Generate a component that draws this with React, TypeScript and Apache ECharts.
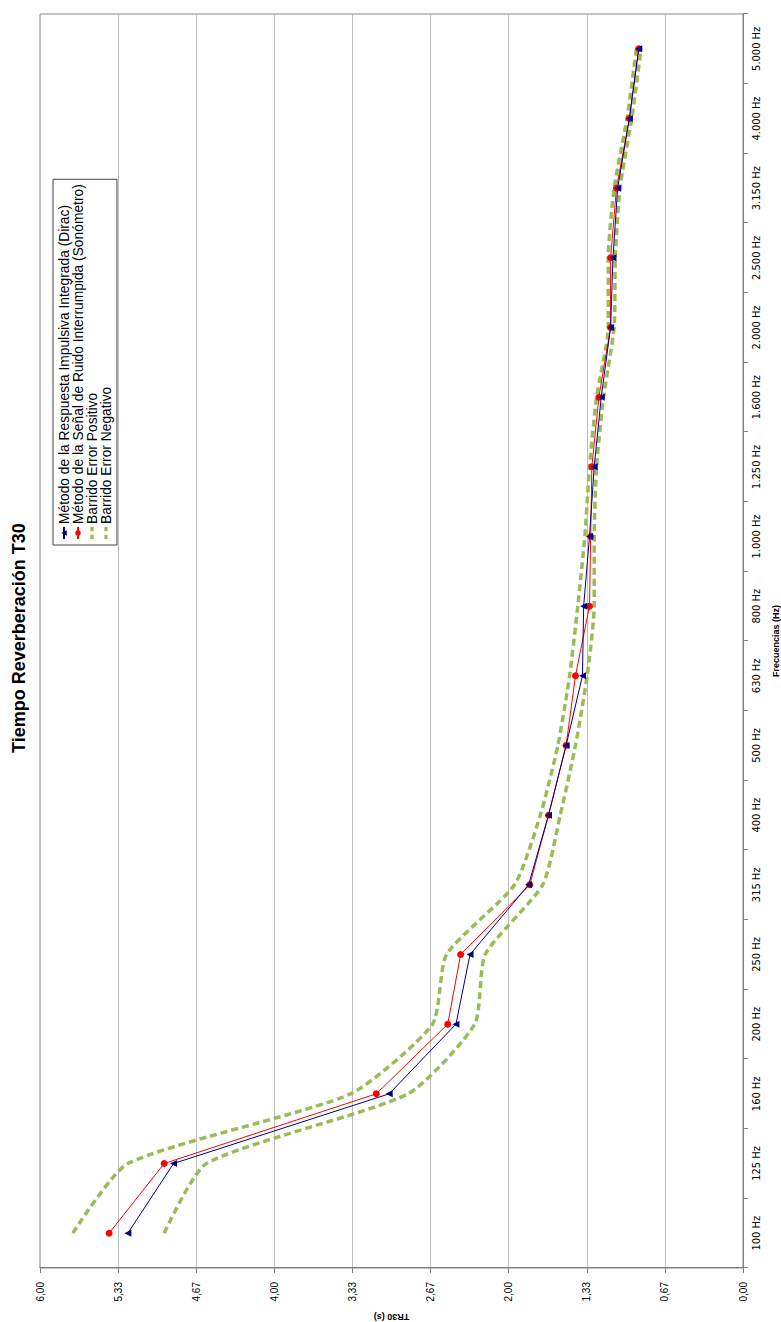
import React, { useEffect, useRef } from "react";
import * as echarts from "echarts";

const categories = ["100 Hz", "125 Hz", "160 Hz", "200 Hz", "250 Hz", "315 Hz", "400 Hz", "500 Hz", "630 Hz", "800 Hz", "1.000 Hz", "1.250 Hz", "1.600 Hz", "2.000 Hz", "2.500 Hz", "3.150 Hz", "4.000 Hz", "5.000 Hz"];
const dirac = [5.25, 4.86, 3.02, 2.45, 2.33, 1.83, 1.66, 1.51, 1.37, 1.36, 1.31, 1.27, 1.21, 1.13, 1.11, 1.07, 0.97, 0.89];
const sonometro = [5.41, 4.94, 3.13, 2.52, 2.41, 1.82, 1.66, 1.51, 1.43, 1.31, 1.30, 1.29, 1.23, 1.13, 1.13, 1.08, 0.97, 0.89];
const errorPositivo = [5.72, 5.25, 3.35, 2.65, 2.53, 1.95, 1.73, 1.58, 1.48, 1.41, 1.35, 1.31, 1.25, 1.15, 1.15, 1.10, 0.99, 0.91];
const errorNegativo = [4.94, 4.58, 2.86, 2.29, 2.20, 1.71, 1.56, 1.43, 1.33, 1.27, 1.27, 1.25, 1.19, 1.10, 1.09, 1.05, 0.95, 0.87];
const seriesNames = [
  "Método de la Respuesta Impulsiva Integrada (Dirac)",
  "Método de la Señal de Ruido Interrumpida (Sonómetro)",
  "Barrido Error Positivo",
  "Barrido Error Negativo",
];
const titleText = "Tiempo Reverberación T30";
const xName = "Frecuencias (Hz)";
const yName = "TR30 (s)";

const FONT = "'Liberation Sans', Arial, sans-serif";
const NARROW = "'Liberation Sans Narrow', 'DejaVu Sans Condensed', 'Liberation Sans', sans-serif";
const DASH_ICON = "path://M0,0h4v3h-4z M7,0h4v3h-4z";

export default function App() {
  const ref = useRef<HTMLDivElement>(null);
  useEffect(() => {
    if (!ref.current) return;
    const chart = echarts.init(ref.current, null, { renderer: "svg" });
    const green = "#9BBB59";
    chart.setOption({
      animation: false,
      backgroundColor: "#fff",
      textStyle: { fontFamily: FONT },
      title: {
        text: titleText,
        left: 684,
        top: 10,
        textAlign: "center",
        padding: 0,
        textStyle: { fontSize: 18, fontWeight: "bold", color: "#000", fontFamily: FONT },
      },
      legend: {
        orient: "vertical",
        left: 777,
        top: 53,
        padding: [4, 5, 4, 5],
        itemGap: 0,
        itemWidth: 12,
        itemHeight: 7,
        borderColor: "#444",
        borderWidth: 1,
        backgroundColor: "#fff",
        textStyle: { fontSize: 13.8, color: "#000", fontFamily: FONT, lineHeight: 12, padding: [0, 0, 0, -2] },
        data: [
          { name: seriesNames[0] },
          { name: seriesNames[1] },
          { name: seriesNames[2], icon: DASH_ICON, itemStyle: { color: green } },
          { name: seriesNames[3], icon: DASH_ICON, itemStyle: { color: green } },
        ],
      },
      grid: {
        left: 54,
        right: 14,
        top: 40,
        bottom: 38,
        outerBoundsMode: "none",
        containLabel: false,
        show: true,
        borderColor: "#888",
        borderWidth: 1,
        backgroundColor: "#fff",
      },
      xAxis: {
        type: "category",
        data: categories,
        boundaryGap: true,
        name: xName,
        nameLocation: "middle",
        nameGap: 28,
        nameTextStyle: { fontSize: 9, fontWeight: "bold", color: "#000", fontFamily: FONT },
        axisLine: { lineStyle: { color: "#808080", width: 1 } },
        axisTick: { show: true, length: 5, lineStyle: { color: "#808080" } },
        axisLabel: { fontSize: 11, color: "#000", margin: 8, interval: 0, fontFamily: NARROW },
        splitLine: { show: false },
      },
      yAxis: {
        type: "value",
        min: 0,
        max: 6,
        interval: 2 / 3,
        name: yName,
        nameLocation: "middle",
        nameGap: 40,
        nameTextStyle: { fontSize: 9, fontWeight: "bold", color: "#000", fontFamily: FONT },
        axisLine: { show: true, lineStyle: { color: "#808080", width: 1 } },
        axisTick: { show: true, length: 5, lineStyle: { color: "#808080" } },
        axisLabel: {
          fontSize: 10,
          color: "#000",
          margin: 14,
          fontFamily: FONT,
          formatter: (v: number) => v.toFixed(2).replace(".", ","),
        },
        splitLine: { show: true, lineStyle: { color: "#bdbdbd", width: 1 } },
      },
      series: [
        {
          name: seriesNames[0],
          type: "line",
          data: dirac,
          symbol: "triangle",
          symbolSize: 7,
          lineStyle: { color: "#000080", width: 1 },
          itemStyle: { color: "#000080" },
          z: 4,
        },
        {
          name: seriesNames[1],
          type: "line",
          data: sonometro,
          symbol: "circle",
          symbolSize: 7,
          lineStyle: { color: "#FF0000", width: 1 },
          itemStyle: { color: "#FF0000" },
          z: 3,
        },
        {
          name: seriesNames[2],
          type: "line",
          data: errorPositivo,
          symbol: "none",
          smooth: 0.2,
          lineStyle: { color: green, width: 3.5, type: [7, 4] },
          itemStyle: { color: green },
          z: 2,
        },
        {
          name: seriesNames[3],
          type: "line",
          data: errorNegativo,
          symbol: "none",
          smooth: 0.2,
          lineStyle: { color: green, width: 3.5, type: [7, 4] },
          itemStyle: { color: green },
          z: 2,
        },
      ],
    });
    return () => chart.dispose();
  }, []);

  return (
    <div
      style={{
        position: "fixed",
        left: 0,
        top: 0,
        width: 781,
        height: 1322,
        overflow: "hidden",
        background: "#fff",
      }}
    >
      <div
        ref={ref}
        style={{
          position: "absolute",
          left: 0,
          top: 0,
          width: 1322,
          height: 781,
          transformOrigin: "0 0",
          transform: "translate(0px, 1322px) rotate(-90deg)",
        }}
      />
    </div>
  );
}
